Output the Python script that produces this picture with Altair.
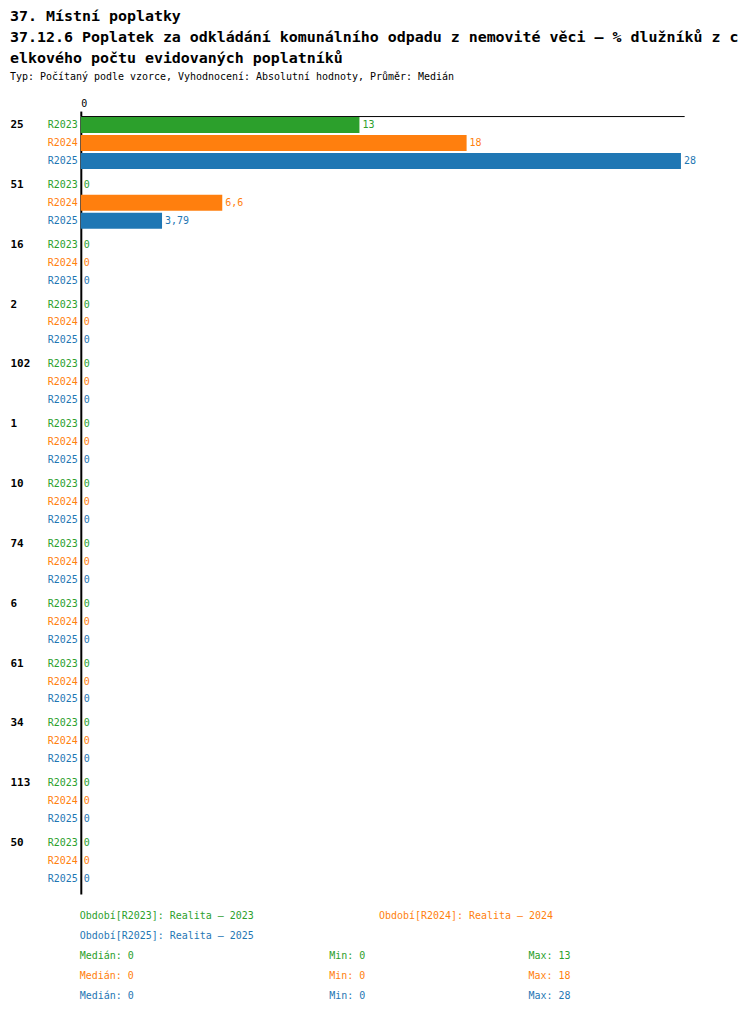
import altair as alt
import pandas as pd

# ---- data ----
groups = ["25", "51", "16", "2", "102", "1", "10", "74", "6", "61", "34", "113", "50"]
series = ["R2023", "R2024", "R2025"]
period_names = ["Realita – 2023", "Realita – 2024", "Realita – 2025"]
colors = ["#2ca02c", "#ff7f0e", "#1f77b4"]
values_r2023 = [13, 0, 0, 0, 0, 0, 0, 0, 0, 0, 0, 0, 0]
values_r2024 = [18, 6.6, 0, 0, 0, 0, 0, 0, 0, 0, 0, 0, 0]
values_r2025 = [28, 3.79, 0, 0, 0, 0, 0, 0, 0, 0, 0, 0, 0]

title_lines = [
    "37. Místní poplatky",
    "37.12.6 Poplatek za odkládání komunálního odpadu z nemovité věci – % dlužníků z c",
    "elkového počtu evidovaných poplatníků",
]
subtitle = "Typ: Počítaný podle vzorce, Vyhodnocení: Absolutní hodnoty, Průměr: Medián"

FONT = "DejaVu Sans Mono"


def fmt(v):
    return f"{v:g}".replace(".", ",")


all_values = [values_r2023, values_r2024, values_r2025]
rows = []
for s, vals in zip(series, all_values):
    for g, v in zip(groups, vals):
        rows.append({"group": g, "series": s, "value": v, "label": fmt(v)})
df = pd.DataFrame(rows)

color_scale = alt.Scale(domain=series, range=colors)

base = alt.Chart(df).encode(
    y=alt.Y(
        "group:N",
        sort=groups,
        scale=alt.Scale(paddingInner=0.1, paddingOuter=0.05, align=0),
        axis=alt.Axis(
            title=None,
            orient="left",
            labelAlign="left",
            labelBaseline="middle",
            labelPadding=71,
            ticks=False,
            tickSize=0,
            labelOffset=-18,
            labelFont=FONT,
            labelFontSize=11,
            labelFontWeight="bold",
            labelColor="black",
            domainColor="black",
            domainWidth=2,
        ),
    ),
    yOffset=alt.YOffset(
        "series:N",
        sort=series,
        scale=alt.Scale(paddingInner=0.111, paddingOuter=0.0556),
    ),
    color=alt.Color("series:N", scale=color_scale, legend=None),
)

bars = base.mark_bar().encode(
    x=alt.X(
        "value:Q",
        scale=alt.Scale(domain=[0, 28.15], nice=False, zero=True),
        axis=alt.Axis(
            orient="top",
            values=[0],
            title=None,
            grid=False,
            domainColor="black",
            domainWidth=1,
            tickColor="black",
            tickWidth=2,
            tickSize=5,
            labelFont=FONT,
            labelFontSize=10,
            labelPadding=3,
            labelColor="black",
        ),
    )
)

value_labels = base.mark_text(
    align="left", baseline="middle", dx=3, font=FONT, fontSize=10
).encode(x="value:Q", text="label:N")

series_labels = base.mark_text(
    align="right", baseline="middle", dx=-3, font=FONT, fontSize=10
).encode(x=alt.datum(0), text="series:N")

layers = [bars, value_labels, series_labels]

# ---- footer (legend + statistics) ----
def footer_text(text, color, x, y):
    return alt.Chart(pd.DataFrame({"t": [text]})).mark_text(
        align="left", baseline="middle", font=FONT, fontSize=10, color=color
    ).encode(x=alt.value(x), y=alt.value(y), text="t:N")


legend_pos = [(-1, 802), (299, 802), (-1, 822)]
for (s, name, c), (x, y) in zip(zip(series, period_names, colors), legend_pos):
    layers.append(footer_text(f"Období[{s}]: {name}", c, x, y))

for i, (vals, c) in enumerate(zip(all_values, colors)):
    ser = pd.Series(vals)
    y = 842 + 20 * i
    layers.append(footer_text(f"Medián: {fmt(ser.median())}", c, -1, y))
    layers.append(footer_text(f"Min: {fmt(ser.min())}", c, 249, y))
    layers.append(footer_text(f"Max: {fmt(ser.max())}", c, 449, y))

chart = alt.layer(*layers).properties(
    width=605,
    height=780,
    padding={"left": 2, "top": 0, "right": 2, "bottom": 0},
    title=alt.Title(
        text=title_lines,
        subtitle=subtitle,
        anchor="start",
        frame="bounds",
        font=FONT,
        fontSize=15,
        fontWeight="bold",
        lineHeight=21,
        color="black",
        subtitleFont=FONT,
        subtitleFontSize=10,
        subtitleColor="black",
        subtitlePadding=6,
        offset=16,
    ),
).configure_view(stroke=None)

chart.save("out.html", embed_options={"renderer": "svg", "actions": False})
